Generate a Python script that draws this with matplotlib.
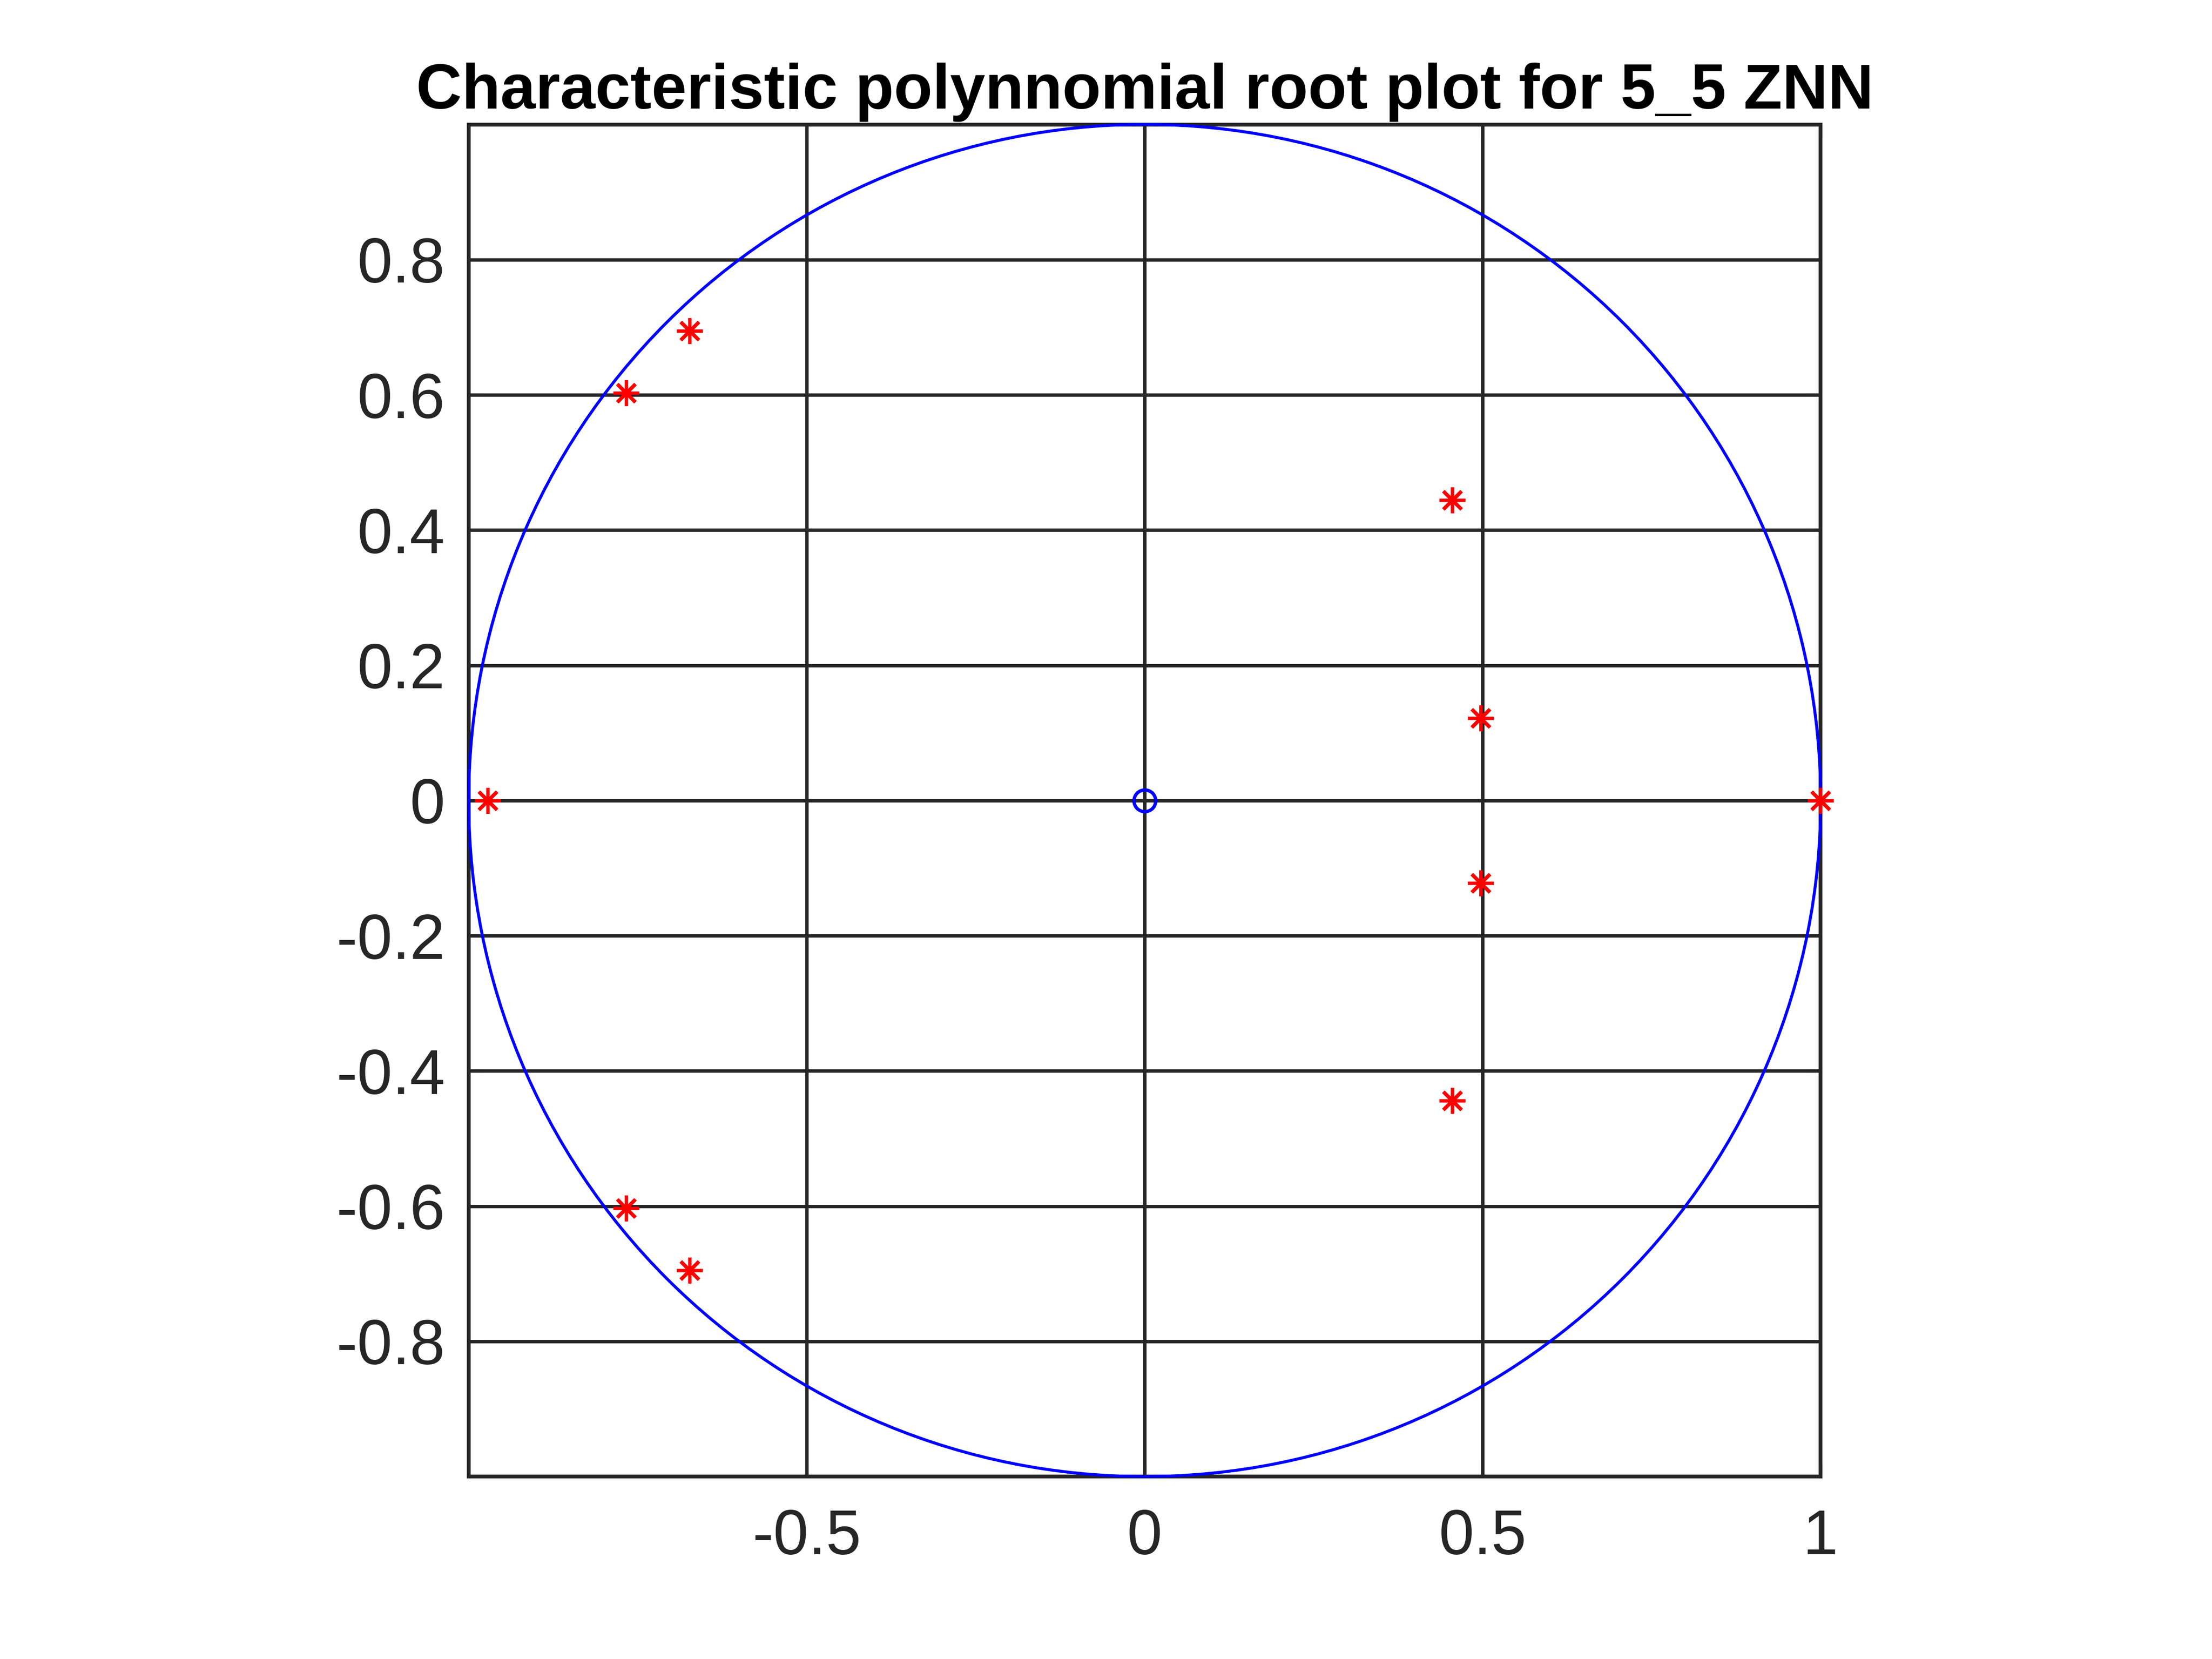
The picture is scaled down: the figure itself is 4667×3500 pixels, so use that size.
import numpy as np
import matplotlib
matplotlib.use("Agg")
import matplotlib.pyplot as plt
from matplotlib.patches import Circle

plt.rcParams['font.family'] = ['Liberation Sans', 'DejaVu Sans']
plt.rcParams['axes.unicode_minus'] = False

# roots of the characteristic polynomial
root_re = [1.0, -0.972, 0.497, 0.497, 0.455, 0.455, -0.767, -0.767, -0.673, -0.673]
root_im = [0.0, 0.0, 0.122, -0.122, 0.444, -0.444, 0.603, -0.603, 0.695, -0.695]
zero_re = [0.0]
zero_im = [0.0]
unit_radius = 1.0

xticks = [-0.5, 0, 0.5, 1]
xlabels = ['-0.5', '0', '0.5', '1']
yticks = [-0.8, -0.6, -0.4, -0.2, 0, 0.2, 0.4, 0.6, 0.8]
ylabels = ['-0.8', '-0.6', '-0.4', '-0.2', '0', '0.2', '0.4', '0.6', '0.8']

title = 'Characteristic polynnomial root plot for 5_5 ZNN'

dark = '#262626'

fig = plt.figure(figsize=(4667/300, 3500/300), dpi=300)
ax = fig.add_axes([0.13, 0.11, 0.775, 0.815])

ax.add_patch(Circle((0, 0), unit_radius, fill=False, edgecolor='#0000ff',
                    linewidth=1.5, zorder=3, clip_on=False))
ax.plot(zero_re, zero_im, linestyle='none', marker='o', markersize=11,
        markerfacecolor='none', markeredgecolor='#0000ff', markeredgewidth=1.7,
        zorder=4, clip_on=False)
ax.plot(root_re, root_im, linestyle='none', marker=(8, 2, 0), markersize=13,
        markeredgecolor='#ff0000', markeredgewidth=1.7, zorder=5, clip_on=False)

ax.set_xlim(-1, 1)
ax.set_ylim(-1, 1)
ax.set_aspect('equal', adjustable='box')

ax.set_xticks(xticks)
ax.set_xticklabels(xlabels)
ax.set_yticks(yticks)
ax.set_yticklabels(ylabels)

ax.grid(True, color=dark, linewidth=1.7, alpha=1.0)
ax.set_axisbelow(True)
for s in ax.spines.values():
    s.set_color(dark)
    s.set_linewidth(1.9)

ax.tick_params(axis='both', direction='in', length=7, width=1.7, color=dark,
               labelcolor=dark, labelsize=32, top=True, right=True)
ax.tick_params(axis='x', pad=16)
ax.tick_params(axis='y', pad=12)

ax.set_title(title, fontsize=32, fontweight='bold', color='black', pad=8)

fig.savefig('out.png', dpi=300, facecolor='white')
